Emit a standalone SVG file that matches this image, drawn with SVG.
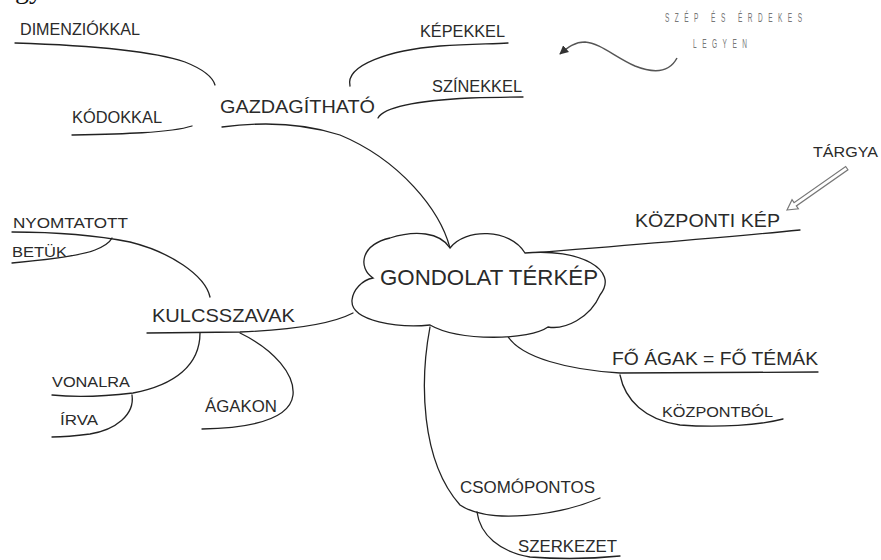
<svg xmlns="http://www.w3.org/2000/svg" width="881" height="560" viewBox="0 0 881 560">
<defs>
<style>
text{font-family:"Liberation Sans",Arial,sans-serif;fill:#2a2a2a}
.c{fill:none;stroke:#222;stroke-width:1.3;stroke-linecap:round}
.g{fill:none;stroke:#555;stroke-width:1.5}
.t16{font-size:16px}
.t19{font-size:19px}
.sm{font-size:13px;fill:#777}
</style>
<marker id="ah" viewBox="0 0 10 10" refX="9" refY="5" markerWidth="9" markerHeight="9" orient="auto" markerUnits="userSpaceOnUse">
<path d="M0,0 L10,5 L0,10 Z" fill="#333"/>
</marker>
</defs>
<rect width="881" height="560" fill="#fff"/>
<text x="15" y="-2" style="font-family:'Liberation Serif',serif;font-size:28px;fill:#111">gy</text>

<g id="connectors">
<path class="c" d="M222,127 C260,122 300,122 340,135 C400,160 440,210 450,248"/>
<path class="c" d="M15,43 C80,45 150,50 185,62 C205,70 213,78 215,85"/>
<path class="c" d="M72,135 C120,134 170,133 192,126"/>
<path class="c" d="M350,86 C345,65 390,50 440,46 C470,44 490,44 508,43"/>
<path class="c" d="M378,118 C385,105 430,100 470,98 C500,97 515,97 523,97"/>
<path class="c" d="M800,230 C720,238 620,246 533,253"/>
<path class="c" d="M507,335 C520,358 570,370 620,373 L818,372"/>
<path class="c" d="M620,375 C625,400 645,420 680,425 C720,428 760,425 783,419"/>
<path class="c" d="M430,327 C420,380 420,460 460,505 C490,525 560,515 600,498"/>
<path class="c" d="M477,512 C480,535 500,552 530,557 C570,560 600,558 620,556"/>
<path class="c" d="M147,333 L240,332 C290,330 330,325 353,313"/>
<path class="c" d="M12,232 C60,232 100,236 130,242 C170,252 205,275 210,297"/>
<path class="c" d="M12,263 C45,260 80,256 95,250 C105,246 110,242 112,238"/>
<path class="c" d="M200,333 C200,365 175,385 133,393 C100,397 70,397 52,395"/>
<path class="c" d="M132,395 C135,415 115,430 90,434 C75,436 60,437 52,437"/>
<path class="c" d="M240,333 C275,350 295,375 293,395 C290,420 250,428 202,429"/>
<path class="g" d="M677,58 C668,75 650,72 635,66 C615,57 600,43 585,42 C575,42 568,47 560,54" marker-end="url(#ah)"/>
<g transform="translate(787,210) rotate(145)">
<polygon points="0,0 -10,-5.5 -10,-2 -73,-2 -73,2 -10,2 -10,5.5" fill="#fff" stroke="#777" stroke-width="1.2"/>
</g>
</g>

<g id="center">
<path d="M373,278 C358,268 360,245 390,238 C415,230 440,232 450,248 C465,228 510,228 525,253 C580,248 620,270 600,295 C590,318 565,330 548,327 C530,340 460,342 430,325 C400,328 350,322 352,300 C353,290 362,280 373,278 Z" fill="#fff" stroke="#222" stroke-width="1.3"/>
<text x="380" y="285" style="font-size:22px" textLength="218" lengthAdjust="spacingAndGlyphs">GONDOLAT TÉRKÉP</text>
</g>
<g id="gazdagithato"><text class="t19" x="220" y="113" textLength="155" lengthAdjust="spacingAndGlyphs">GAZDAGÍTHATÓ</text></g>
<g id="dimenziokkal"><text class="t16" x="20" y="35" textLength="120" lengthAdjust="spacingAndGlyphs">DIMENZIÓKKAL</text></g>
<g id="kodokkal"><text class="t16" x="72" y="123" textLength="90" lengthAdjust="spacingAndGlyphs">KÓDOKKAL</text></g>
<g id="kepekkel"><text class="t16" x="420" y="37" textLength="85" lengthAdjust="spacingAndGlyphs">KÉPEKKEL</text></g>
<g id="szinekkel"><text class="t16" x="432" y="92" textLength="90" lengthAdjust="spacingAndGlyphs">SZÍNEKKEL</text></g>
<g id="szep" transform="scale(0.5,1)">
<text class="sm" x="1330" y="22" textLength="274" lengthAdjust="spacing">SZÉP ÉS ÉRDEKES</text>
<text class="sm" x="1386" y="48" textLength="108" lengthAdjust="spacing">LEGYEN</text>
</g>
<g id="targya"><text x="813" y="157" style="font-size:15px" textLength="65" lengthAdjust="spacingAndGlyphs">TÁRGYA</text></g>
<g id="kozponti-kep"><text class="t19" x="635" y="227" textLength="145" lengthAdjust="spacingAndGlyphs">KÖZPONTI KÉP</text></g>
<g id="fo-agak"><text class="t19" x="612" y="365" textLength="206" lengthAdjust="spacingAndGlyphs">FŐ ÁGAK = FŐ TÉMÁK</text></g>
<g id="kozpontbol"><text x="662" y="417" style="font-size:15px" textLength="111" lengthAdjust="spacingAndGlyphs">KÖZPONTBÓL</text></g>
<g id="csomopontos"><text x="460" y="493" style="font-size:17px" textLength="135" lengthAdjust="spacingAndGlyphs">CSOMÓPONTOS</text></g>
<g id="szerkezet"><text x="518" y="552" style="font-size:17px" textLength="99" lengthAdjust="spacingAndGlyphs">SZERKEZET</text></g>
<g id="kulcsszavak"><text class="t19" x="152" y="322" textLength="143" lengthAdjust="spacingAndGlyphs">KULCSSZAVAK</text></g>
<g id="nyomtatott"><text x="13" y="228" style="font-size:15px" textLength="115" lengthAdjust="spacingAndGlyphs">NYOMTATOTT</text></g>
<g id="betuk"><text x="12" y="257" style="font-size:15px" textLength="55" lengthAdjust="spacingAndGlyphs">BETÜK</text></g>
<g id="vonalra"><text x="52" y="387" style="font-size:15px" textLength="78" lengthAdjust="spacingAndGlyphs">VONALRA</text></g>
<g id="irva"><text x="60" y="425" style="font-size:15px" textLength="38" lengthAdjust="spacingAndGlyphs">ÍRVA</text></g>
<g id="agakon"><text x="205" y="412" class="t16" textLength="72" lengthAdjust="spacingAndGlyphs">ÁGAKON</text></g>
</svg>
